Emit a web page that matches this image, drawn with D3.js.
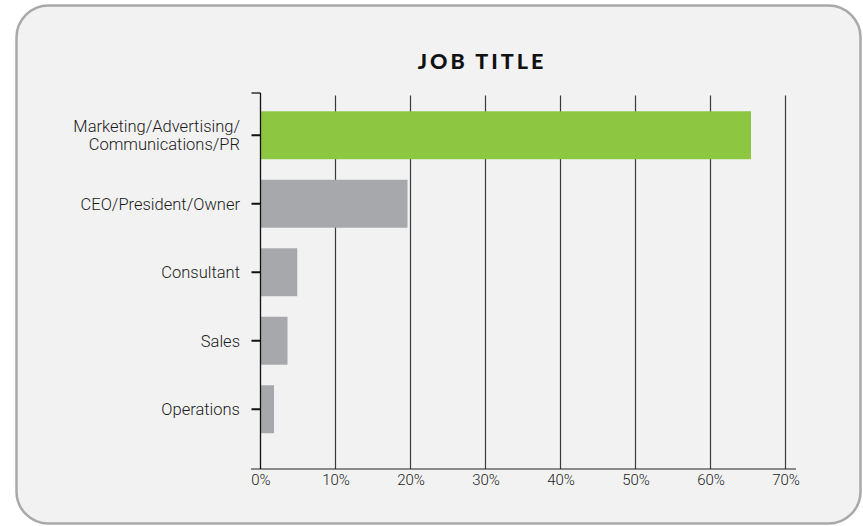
<!DOCTYPE html>
<html>
<head>
<meta charset="utf-8">
<script src="https://cdn.jsdelivr.net/npm/d3@7"></script>
<style>
  html, body { margin: 0; padding: 0; background: #ffffff; }
  svg { display: block; }
</style>
</head>
<body>
<svg id="chart" width="863" height="526"></svg>
<script>
// Job title breakdown (share of respondents, %)
const categories = [
  ["Marketing/Advertising/", "Communications/PR"],
  ["CEO/President/Owner"],
  ["Consultant"],
  ["Sales"],
  ["Operations"]
];
const values = [65.4, 19.6, 4.9, 3.6, 1.8];
const highlight = [true, false, false, false, false];
const tickValues = [0, 10, 20, 30, 40, 50, 60, 70];
const title = "JOB TITLE";

const svg = d3.select("#chart");

// Rounded panel
svg.append("rect")
  .attr("x", 16.5).attr("y", 5.5)
  .attr("width", 844).attr("height", 518)
  .attr("rx", 32).attr("ry", 32)
  .attr("fill", "#f2f2f2")
  .attr("stroke", "#a9a9a9")
  .attr("stroke-width", 2.5);

// Title
svg.append("text")
  .attr("x", 482).attr("y", 69)
  .attr("text-anchor", "middle")
  .attr("font-family", "Lato, 'Open Sans', sans-serif")
  .attr("font-weight", 900)
  .attr("font-size", 21.5)
  .attr("letter-spacing", 3)
  .attr("fill", "#111")
  .text(title);

const x = d3.scaleLinear().domain([0, 70]).range([260.5, 785.5]);
const keys = categories.map(c => c.join(" "));
const y = d3.scaleBand().domain(keys).range([101, 443.5])
  .paddingInner(0.3).paddingOuter(0.15);

const axisTop = 93, axisBottom = 469;
const labelFont = "Roboto, 'Liberation Sans', Arial, sans-serif";

// Vertical gridlines
svg.append("g").selectAll("line")
  .data(tickValues.slice(1))
  .join("line")
  .attr("x1", d => x(d)).attr("x2", d => x(d))
  .attr("y1", 95.5).attr("y2", axisBottom)
  .attr("stroke", "#3a3a3a")
  .attr("stroke-width", 1.2);

// Bars
svg.append("g").selectAll("rect")
  .data(values)
  .join("rect")
  .attr("x", x(0))
  .attr("y", (d, i) => y(keys[i]))
  .attr("width", d => x(d) - x(0))
  .attr("height", y.bandwidth())
  .attr("fill", (d, i) => highlight[i] ? "#8dc641" : "#a7a8ab");

// Bottom axis
const xAxis = d3.axisBottom(x)
  .tickValues(tickValues)
  .tickFormat(d => d + "%")
  .tickSize(0)
  .tickPadding(5);
const gx = svg.append("g")
  .attr("transform", `translate(0,${axisBottom})`)
  .call(xAxis);
gx.select(".domain").remove();
gx.append("line")
  .attr("x1", 251).attr("x2", 796)
  .attr("stroke", "#222").attr("stroke-width", 1.2);
gx.selectAll("text")
  .attr("font-family", labelFont)
  .attr("font-weight", 300)
  .attr("font-size", 15)
  .attr("fill", "#222");

// Left axis
const yAxis = d3.axisLeft(y).tickSize(9).tickFormat("");
const gy = svg.append("g")
  .attr("transform", `translate(${x(0)},0)`)
  .call(yAxis);
gy.select(".domain").remove();
gy.selectAll(".tick line").attr("stroke", "#111").attr("stroke-width", 2);
gy.append("line")
  .attr("y1", axisTop).attr("y2", axisBottom)
  .attr("stroke", "#111").attr("stroke-width", 1.3);
gy.append("line")
  .attr("x1", -9).attr("x2", 0)
  .attr("y1", axisTop).attr("y2", axisTop)
  .attr("stroke", "#111").attr("stroke-width", 1.3);

// Category labels (multi-line where needed)
const labels = svg.append("g")
  .attr("font-family", labelFont)
  .attr("font-weight", 300)
  .attr("font-size", 16.5)
  .attr("fill", "#1a1a1a")
  .attr("text-anchor", "end");
categories.forEach((lines, i) => {
  const cy = y(keys[i]) + y.bandwidth() / 2;
  const lh = 18.5;
  const t = labels.append("text").attr("x", 240);
  lines.forEach((ln, j) => {
    t.append("tspan")
      .attr("x", 240)
      .attr("y", cy + (j - (lines.length - 1) / 2) * lh)
      .attr("dy", "0.35em")
      .text(ln);
  });
});
</script>
</body>
</html>
